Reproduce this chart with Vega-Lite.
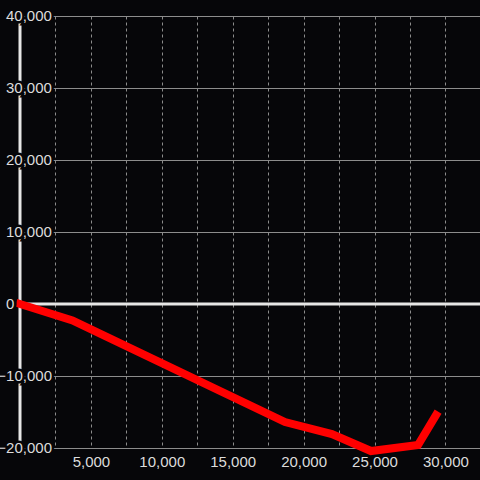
{
  "$schema": "https://vega.github.io/schema/vega-lite/v6.json",
  "width": 460,
  "height": 432,
  "autosize": {"type": "none"},
  "padding": {"left": 20, "top": 16, "right": 0, "bottom": 32},
  "background": "#060609",
  "config": {"view": {"stroke": null}, "font": "Liberation Sans"},
  "datasets": {
    "series": [
      {"x": 0, "y": 0},
      {"x": 3700, "y": -2290},
      {"x": 18690, "y": -16390},
      {"x": 22000, "y": -18060},
      {"x": 24750, "y": -20420},
      {"x": 28070, "y": -19580},
      {"x": 29340, "y": -15420}
    ],
    "yticks": [
      {"v": 40000}, {"v": 30000}, {"v": 20000}, {"v": 10000}, {"v": 0}, {"v": -10000}, {"v": -20000}
    ],
    "one": [{}]
  },
  "layer": [
    {
      "data": {"name": "series"},
      "mark": {"type": "line", "opacity": 0},
      "encoding": {
        "x": {
          "field": "x", "type": "quantitative",
          "scale": {"domain": [0, 32440], "nice": false, "zero": false},
          "axis": {
            "title": null,
            "values": [2500, 5000, 7500, 10000, 12500, 15000, 17500, 20000, 22500, 25000, 27500, 30000],
            "labelExpr": "datum.value % 5000 === 0 ? format(datum.value, ',') : ''",
            "labelOverlap": false,
            "labelFlush": false,
            "labelFontSize": 15,
            "labelColor": "#dcdcdc",
            "labelPadding": 6,
            "labelDx": 2,
            "domain": false,
            "ticks": false,
            "grid": true,
            "gridColor": "#8c8c8c",
            "gridWidth": 1,
            "gridDash": [3, 3]
          }
        },
        "y": {
          "field": "y", "type": "quantitative",
          "scale": {"domain": [-20000, 40000], "nice": false, "zero": false},
          "axis": {
            "title": null,
            "values": [-20000, -15000, -10000, -5000, 0, 5000, 10000, 15000, 20000, 25000, 30000, 35000, 40000],
            "labels": false,
            "domain": false,
            "ticks": false,
            "grid": true,
            "gridColor": "#8c8c8c",
            "gridWidth": 1
          }
        }
      }
    },
    {
      "data": {"name": "one"},
      "mark": {"type": "rule", "color": "#e6e6e6", "strokeWidth": 3},
      "encoding": {"x": {"datum": 0, "type": "quantitative"}}
    },
    {
      "data": {"name": "one"},
      "mark": {"type": "rule", "color": "#e6e6e6", "strokeWidth": 3},
      "encoding": {"y": {"datum": 0, "type": "quantitative"}}
    },
    {
      "data": {"name": "series"},
      "mark": {"type": "line", "color": "#ff0000", "strokeWidth": 8, "strokeCap": "square", "clip": false},
      "encoding": {
        "x": {"field": "x", "type": "quantitative"},
        "y": {"field": "y", "type": "quantitative"}
      }
    },
    {
      "data": {"name": "yticks"},
      "transform": [{"filter": "datum.v >= 0"}],
      "mark": {"type": "text", "align": "left", "baseline": "middle", "dx": -14, "fontSize": 15, "fill": "#060609", "stroke": "#060609", "strokeWidth": 5},
      "encoding": {
        "x": {"datum": 0, "type": "quantitative"},
        "y": {"field": "v", "type": "quantitative"},
        "text": {"field": "v", "type": "quantitative", "format": ","}
      }
    },
    {
      "data": {"name": "yticks"},
      "transform": [{"filter": "datum.v < 0"}],
      "mark": {"type": "text", "align": "right", "baseline": "middle", "dx": 32, "fontSize": 15, "fill": "#060609", "stroke": "#060609", "strokeWidth": 5},
      "encoding": {
        "x": {"datum": 0, "type": "quantitative"},
        "y": {"field": "v", "type": "quantitative"},
        "text": {"field": "v", "type": "quantitative", "format": ","}
      }
    },
    {
      "data": {"name": "yticks"},
      "transform": [{"filter": "datum.v >= 0"}],
      "mark": {"type": "text", "align": "left", "baseline": "middle", "dx": -14, "fontSize": 15, "fill": "#dcdcdc"},
      "encoding": {
        "x": {"datum": 0, "type": "quantitative"},
        "y": {"field": "v", "type": "quantitative"},
        "text": {"field": "v", "type": "quantitative", "format": ","}
      }
    },
    {
      "data": {"name": "yticks"},
      "transform": [{"filter": "datum.v < 0"}],
      "mark": {"type": "text", "align": "right", "baseline": "middle", "dx": 32, "fontSize": 15, "fill": "#dcdcdc"},
      "encoding": {
        "x": {"datum": 0, "type": "quantitative"},
        "y": {"field": "v", "type": "quantitative"},
        "text": {"field": "v", "type": "quantitative", "format": ","}
      }
    }
  ]
}
